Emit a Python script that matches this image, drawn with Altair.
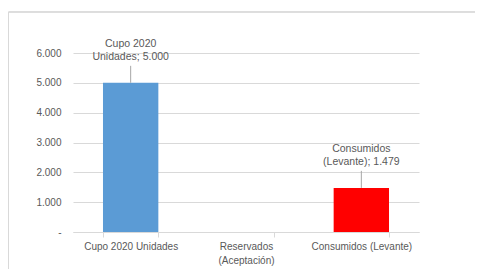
import altair as alt
import pandas as pd

categories = ["Cupo 2020 Unidades", "Reservados (Aceptación)", "Consumidos (Levante)"]
values = [5000, None, 1479]
colors = ["#5B9BD5", "#FFFFFF", "#FF0000"]
label_texts = ["Cupo 2020\nUnidades; 5.000", "", "Consumidos\n(Levante); 1.479"]
y_ticks = [0, 1000, 2000, 3000, 4000, 5000, 6000]

df = pd.DataFrame({"cat": categories, "value": values, "color": colors, "label": label_texts})

FONT = "Liberation Sans"
GRAY = "#595959"

x_scale = alt.Scale(domain=categories, paddingInner=0.52, paddingOuter=0.26)
x_axis = alt.Axis(
    title=None,
    labelAngle=0,
    labelExpr="datum.label == 'Reservados (Aceptación)' ? ['Reservados', '(Aceptación)'] : datum.label",
    labelFont=FONT,
    labelFontSize=10,
    labelColor=GRAY,
    labelPadding=4,
    labelLineHeight=14,
    domainColor="#d9d9d9",
    tickColor="#d9d9d9",
    tickSize=5,
    tickBand="extent",
    grid=False,
)
y_scale = alt.Scale(domain=[0, 6000], nice=False)
y_axis = alt.Axis(
    title=None,
    values=y_ticks,
    labelExpr="datum.value == 0 ? '-' : replace(format(datum.value, ','), ',', '.')",
    labelFont=FONT,
    labelFontSize=10,
    labelColor=GRAY,
    labelPadding=12,
    labelOverlap=False,
    ticks=False,
    domain=False,
    gridColor="#d9d9d9",
)

x_enc = alt.X("cat:N", scale=x_scale, axis=x_axis)
y_enc = alt.Y("value:Q", scale=y_scale, axis=y_axis)

frame = alt.Chart(df).mark_rect(fill=None, stroke="#d9d9d9", strokeWidth=1).encode(
    x=alt.value(-64.5), x2=alt.value(500), y=alt.value(-41), y2=alt.value(300)
)

bars = alt.Chart(df).transform_filter("datum.value != null").mark_bar().encode(
    x=x_enc,
    y=y_enc,
    color=alt.Color("color:N", scale=None),
)

leaders = alt.Chart(df).transform_filter("datum.value != null").transform_calculate(
    top="datum.value + 570"
).mark_rule(color="#a6a6a6", strokeWidth=1).encode(
    x=x_enc,
    y=y_enc,
    y2="top:Q",
)

labels = alt.Chart(df).transform_filter("datum.value != null").mark_text(
    lineBreak="\n", baseline="top", dy=-44, font=FONT, fontSize=10.5, color=GRAY, lineHeight=13
).encode(
    x=x_enc,
    y=y_enc,
    text="label:N",
)

chart = alt.layer(frame, bars, leaders, labels).properties(
    width=346,
    height=179,
    autosize=alt.AutoSizeParams(type="none"),
    padding={"left": 65, "top": 45, "right": 56, "bottom": 37},
).configure_view(stroke=None).configure_axis(labelFont=FONT)

chart.save("out.html", embed_options={"renderer": "svg", "actions": False})
